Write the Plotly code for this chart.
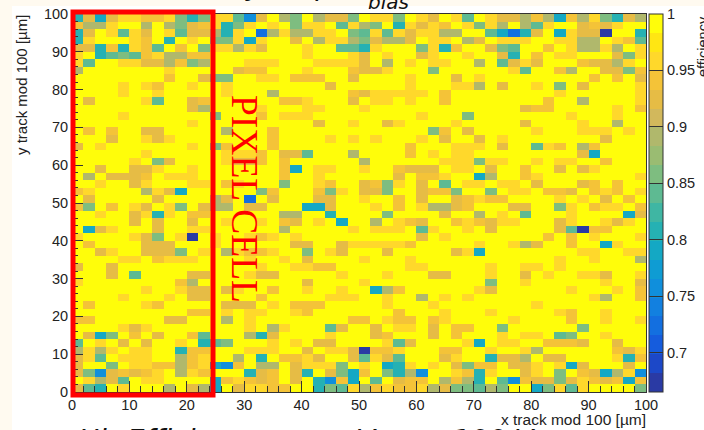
import re
import numpy as np
import plotly.graph_objects as go

# Bins of the 2D map (2 um x 2 um)
N_BINS = 50
BIN_WIDTH = 2

# Efficiency read for each colour step seen in the map ('.' cells are full efficiency)
FULL_EFFICIENCY = 0.995
LEVEL_VALUES = {"z": 0.975, "a": 0.958, "b": 0.94, "c": 0.925, "d": 0.89, "e": 0.865,
                "f": 0.84, "g": 0.815, "h": 0.795, "i": 0.755, "j": 0.725, "k": 0.675}

# Non-full cells of each row, listed top row first: "<column><level>"
ROWS_TOP_DOWN = [
 "0g 1c 2h 3c 4a 5a 6b 7b 8a 9e 10g 11e 12a 13a 14f 15i 16c 18d 19e 21d 22c 23c 24e 26a 27a 28e 30a 31c 33a 34f 36a 37c 38c 39d 40b 41d 42h 43b 44d 45a 46e 47g 48c 49d",
 "0b 1d 2d 3a 6d 8d 9e 10c 11b 12a 13g 14e 15a 17a 19e 20a 21a 23f 24a 25d 26e 28g 29a 30c 31a 32b 34a 35e 36a 37d 39d 40f 41a 44c 45b 46c 47a",
 "0g 1c 3a 4f 5a 6c 8a 9f 10c 11c 12d 13g 14a 16j 17d 18a 19d 20d 21a 22a 24e 25f 26a 27f 28a 29c 30a 31a 32d 33d 36f 37h 38j 39g 40c 42h 43a 44c 45c 46k 49g",
 "0g 1a 5a 6b 8g 10a 12e 13e 14a 15h 16a 19c 21d 22a 23a 24d 25e 26c 27d 28d 29c 31a 32a 34d 35c 37a 38a 39a 42a 43a 44d 45d 47a 48b 49f",
 "0c 1c 2g 3b 4g 5a 6b 7f 9b 11e 12a 13a 14d 15a 16c 20a 23f 24f 25g 26a 30e 31a 32g 33b 36c 37e 38f 41b 43a 44d 45d 46a 47d 49a",
 "0a 2g 3f 4e 5f 6b 7a 8d 9d 10b 11b 20a 24a 25c 27a 30c 31a 34a 37c 38g 40b 42a 43a 47c 48e 49a",
 "0a 1f 4a 5a 6c 7c 8d 9b 10e 11d 15a 16a 17a 21a 22a 23a 24a 25c 27d 29a 31a 32a 35d 37f 38c 39a 40c 44b 45c 46c 47d 48a",
 "0d 8a 14c 15b 16b 20a 24b 25c 26c 27a 31e 38a 39f 42b 43d 46c 47c 48e 49b",
 "8b 11c 12e 13e 16a 17a 19b 20b 21b 24c 29a 33c 35a 45b 47b 49c",
 "4a 6a 7b 10a 13a 22c 29a 33a 34a 35d 37c 40a 42e 44c 49a",
 "4a 7a 13a 17d 24b 25c 26a 27a 28a 29a 30a 32b 42a 49a",
 "1c 6a 7f 10c 11b 18b 19b 20a 24c 26a 27a 29a 32b 41b 44d 49a",
 "10c 11d 16a 20a 21a 25a 39c 40b 41b 47a 49b",
 "4a 12e 16b 18a 19a 20a 30a 34e 43a 47a",
 "10a 21c 24a 27c 28a 33a 39c 44a 47d",
 "1b 3b 6c 7c 13d 17b 31e 32b 34c 40a 44a 45a 46a 48a",
 "3c 6a 7c 8a 17b 22a 24a 26a 30a 32c 35c 37a 46c",
 "0c 2a 10a 12e 13b 17b 29b 33a 34a 35a 37c 40f 41a 42b 44d 45b",
 "6a 13a 14a 15a 16b 18c 19c 20f 24d 29b 31a 33a 34a 44c 45h",
 "5a 7e 8c 13a 14c 15c 16b 18b 25d 32a 33a 34a 35e 36a 37a 40a 42a 43a 46b",
 "2c 5c 6c 7a 10a 18b 19h 21a 22a 25a 28b 29c 30c 31c 33a 34a 36c 39b 42c 44c 45a",
 "1d 3c 4c 5c 6b 8a 9a 10a 18b 21a 28c 30b 31b 32a 35h 36d 39b 40a 49a",
 "2a 5c 6a 10a 11a 13b 14a 18e 21a 22b 25c 26b 27e 28a 30c 32f 34a 35a 37a 38a 40c 44c 45b 47b",
 "0b 1a 6d 7a 8c 9h 16e 17b 21b 22e 23a 25c 26c 27e 30c 31b 32b 33e 36e 38a 39a 41b 42b 43c 45b 46a 47b 49a",
 "1c 7c 12d 13c 15j 17c 21c 22c 25a 28b 30c 33c 34b 35a 36b 37b 42a 44a 46c 48b",
 "0b 1e 3b 5a 6c 8a 9e 11c 12d 13d 15c 16c 20h 21h 22c 26a 28b 30a 31d 32d 33c 34b 38c 39c 42e 43a 45b 46a 47a 49b",
 "2a 5c 6a 7g 8a 10b 11b 18d 19d 22g 27e 32c 35d 37a 39f 43a 48h 49c",
 "5c 7c 10c 13a 16a 18b 19c 21a 23h 26d 28a 29b 30c 33b 34a 35b 36c 37a 38a 42c 43a 46a 47c 48a",
 "1h 2c 3a 7c 10a 11a 18d 24a 26a 27a 28a 30f 31a 34a 36c 42c 43f 44k 45b 46b",
 "0a 5a 6c 7e 9a 10k 12a 15a 16b 17a 19a 30c 32a 41b 43b 45a 49a",
 "1b 6c 7c 8c 12a 19c 20c 23c 24a 25a 26a 27a 28a 29b 35a 38a 39d 40c 43b 46h 47a",
 "2c 3a 6c 7c 8c 9e 11a 13d 14a 15b 16b 17a 20e 22a 23c 27c 33c 34a 35h 44a 45a 48a 49a",
 "4a 5a 7b 8a 9a 10a 15a 18a 20c 25a 29a 42a 45a 49d",
 "0c 3c 16a 19a 20a 21b 22b 29a 30a 36a 39a 40a 42a",
 "3c 5f 10c 11c 15a 16c 17c 23a 27a 31c 32c 36a 39c 41a 44a 45a 46c 49a",
 "0a 9b 10d 20c 25a 36e 39a 46a 49c",
 "6a 9a 10c 11c 13c 14a 17b 20a 23a 26h 27d 28b 35a 36c 43a 47a 49b",
 "4a 8a 10c 11c 16b 22a 23a 24a 27a 30d 32a 34a 45a 46d 49b",
 "1b 6a 7b 13c 14c 15c 17a 19b 20b 21b 27a 31a 40a",
 "10b 11b 13a 15a 16a 19a 20b 28b 32a 36a 42a 43b 46a",
 "0b 1b 8c 9c 13d 15a 24b 25b 27a 28b 29b 31b 32a 38a 43b 46a 49a",
 "4a 5c 6a 15a 17d 18a 22f 23c 26c 28a 29a 31c 33b 34b 37e 44e",
 "1c 2h 3e 5b 7c 10b 11f 15d 16g 17c 22a 26c 27b 31c 33b 37a 39a 40a 42f 43e 46a",
 "0f 2a 4c 6c 9a 11g 12f 13e 17a 19a 21c 22c 27a 28f 29c 34a 35h 37a 38a 41b 42b 43b 44c 47c",
 "0d 1a 2d 3a 5a 6a 9g 10b 11b 15a 16a 17a 20c 22a 23a 24c 25k 26b 27b 28a 32b 33b 36a 39a 40d 47b 48c 49a",
 "0c 1a 2f 4a 5a 6a 9d 10b 11a 14d 16g 18b 19b 20a 21c 24c 25f 26a 27c 28f 32c 33a 36g 37c 38c 39d 41c 42c 47a 48g 49b",
 "0c 3e 5a 6a 7b 8b 9d 10b 11a 12h 13i 14b 16d 17d 19c 20a 21a 22a 23e 25a 27h 28g 29a 31a 33c 34e 35b 36b 38c 39c 40a 42a 43h 44c 48c",
 "0c 1e 2i 3c 4b 5c 6b 7a 9d 10a 11b 15g 16c 17b 19c 20g 22c 23e 24h 25b 27e 28g 29d 30i 33a 34b 35g 36a 39c 40a 42e 44b 45c 46h 47d 48a 49i",
 "1a 2d 3c 4f 6a 7a 12h 13b 14a 15b 16c 17b 19c 21g 22i 23b 24h 26f 28c 29b 30b 32d 33b 34d 35g 37f 38i 39b 40c 41c 42e 43c 44a 45b 46c 47b 48h 49b",
 "0c 1f 2g 4a 8d 10c 11d 12h 14c 15a 16a 17b 18b 21g 22e 23f 24a 25d 26b 27a 28b 29b 30a 31d 32c 33e 34e 35f 36d 37e 40h 41e 42a 43f 44a 49e",
]

# Colour bar
Z_MIN = 0.665
Z_MAX = 1.0
BAR_TICKS = [0.7, 0.75, 0.8, 0.85, 0.9, 0.95, 1.0]
BAR_LABELS = ["0.7", "0.75", "0.8", "0.85", "0.9", "0.95", "1"]
PALETTE_BOTTOM_UP = ["#2A3AA4", "#1C48C8", "#155CDD", "#136FE0", "#1280E0", "#108FDC", "#0F9CD3",
                     "#14A8C4", "#25B1B3", "#3FB6A3", "#5EBA92", "#7EBD80", "#9ABC72", "#B0B86C",
                     "#D2B85C", "#E6BC45", "#F4C338", "#FFD82B", "#FFE613", "#FFFD0A"]

# Texts
X_TITLE = "x track mod 100 [µm]"
Y_TITLE = "y track mod 100 [µm]"
BAR_TITLE = "efficiency"
CELL_LABEL = "PIXEL CELL"
HEADLINE = ["Hit Efficiency", "map", "V", "bias", "@100 V"]

INK = "#333333"
CREAM = "#FFFAF0"
AX_FONT = "Liberation Sans"
HEAD_FONT = "DejaVu Sans"

# Plot rectangle in page pixels
L, R, T, B = 72, 646, 14, 392
W, H = 704, 430
px = lambda v: (v - L) / (R - L)
py = lambda v: (B - v) / (B - T)

# Build the grid
z = np.full((N_BINS, N_BINS), FULL_EFFICIENCY)
for r, row in enumerate(ROWS_TOP_DOWN):
    for col, lev in re.findall(r"(\d+)([a-z])", row):
        z[N_BINS - 1 - r, int(col)] = LEVEL_VALUES[lev]

n = len(PALETTE_BOTTOM_UP)
scale = []
for i, c in enumerate(PALETTE_BOTTOM_UP):
    scale += [[i / n, c], [(i + 1) / n, c]]

fig = go.Figure(go.Heatmap(
    z=z, x0=BIN_WIDTH / 2, dx=BIN_WIDTH, y0=BIN_WIDTH / 2, dy=BIN_WIDTH,
    zmin=Z_MIN, zmax=Z_MAX, colorscale=scale, hoverongaps=False,
    colorbar=dict(
        thickness=14, thicknessmode="pixels", len=1, lenmode="fraction",
        x=649 / W, xref="container", xanchor="left", xpad=0, ypad=0,
        y=0.5, yanchor="middle",
        outlinecolor=INK, outlinewidth=1, borderwidth=0,
        tickmode="array", tickvals=BAR_TICKS, ticktext=BAR_LABELS,
        ticks="inside", ticklen=14, tickcolor=INK, tickwidth=1,
        tickfont=dict(family=AX_FONT, size=14.5, color="#222222"),
    ),
))


def axis(**kw):
    return dict(range=[0, 100], tick0=0, dtick=10, ticks="inside", ticklen=11, tickwidth=1,
                tickcolor=INK, showline=True, linecolor=INK, linewidth=1, mirror=True,
                showgrid=False, zeroline=False,
                minor=dict(dtick=2, ticks="inside", ticklen=6, tickcolor=INK, tickwidth=1, showgrid=False),
                tickfont=dict(family=AX_FONT, size=14.5, color="#222222"), **kw)


fig.update_layout(
    width=W, height=H, autosize=False,
    margin=dict(l=L, r=W - R, t=T, b=H - B, autoexpand=False, pad=0),
    paper_bgcolor=CREAM, plot_bgcolor="white",
    xaxis=axis(), yaxis=axis(),
    shapes=[
        dict(type="rect", xref="paper", yref="paper", layer="below",
             x0=px(12), x1=px(W), y0=py(H), y1=py(6), fillcolor="white", line_width=0),
        dict(type="rect", xref="paper", yref="paper", layer="above",
             x0=px(73), x1=px(213), y0=py(395), y1=py(12), line=dict(color="#FF0000", width=5)),
    ],
)

ann = []
# Axis titles, flush with the axis ends
ann.append(dict(text=X_TITLE, x=px(647), y=py(420), xanchor="right", yanchor="middle",
                font=dict(family=AX_FONT, size=15.5, color="#222222")))
ann.append(dict(text=Y_TITLE, x=px(22), y=py(85), xanchor="center", yanchor="middle", textangle=-90,
                font=dict(family=AX_FONT, size=15, color="#222222")))
ann.append(dict(text=BAR_TITLE, x=px(703), y=py(47), xanchor="center", yanchor="middle", textangle=-90,
                font=dict(family=AX_FONT, size=14.5, color="#222222")))
ann.append(dict(text=CELL_LABEL, x=px(245), y=py(199), xanchor="center", yanchor="middle", textangle=90,
                font=dict(family="Liberation Serif", size=37.5, color="#FF0000")))
# Slide headlines cut off by the picture edges
for base_y, sub_y, xs in ((-14, 2, (77, 270, 348, 367, 411)), (440, 452, (77, 270, 355, 375, 423))):
    for text, x0 in zip(HEADLINE, xs):
        is_sub = text == "bias"
        ann.append(dict(text=f"<i>{text}</i>", x=px(x0), y=py(sub_y if is_sub else base_y),
                        xanchor="left", yanchor="middle",
                        font=dict(family=HEAD_FONT, size=20 if is_sub else 28, color="#111111")))
for a in ann:
    a.update(xref="paper", yref="paper", showarrow=False, borderpad=0)
fig.update_layout(annotations=ann)

assert len(ROWS_TOP_DOWN) == N_BINS
fig.write_html("out.html", config=dict(displayModeBar=False),
               post_script="document.body.style.margin='0';document.body.style.overflow='hidden';")
